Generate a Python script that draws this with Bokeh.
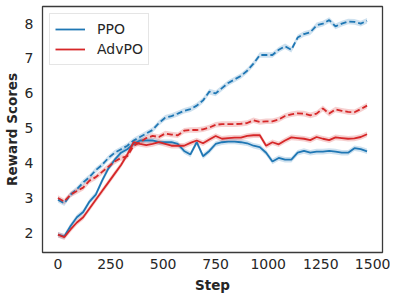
from bokeh.plotting import figure
from bokeh.models import Range1d, FixedTicker, Legend, LegendItem
from bokeh.embed import file_html
from bokeh.resources import INLINE

steps = list(range(0, 1500, 30))

ppo_dashed = [2.95, 2.85, 3.1, 3.25, 3.45, 3.6, 3.8, 3.95, 4.15, 4.3,
              4.4, 4.5, 4.65, 4.75, 4.85, 4.95, 5.15, 5.3, 5.35, 5.42,
              5.5, 5.55, 5.65, 5.8, 6.05, 6.0, 6.15, 6.3, 6.4, 6.5,
              6.65, 6.85, 7.1, 7.1, 7.1, 7.25, 7.35, 7.25, 7.6, 7.7,
              7.75, 7.95, 8.0, 8.1, 7.92, 8.0, 8.06, 8.05, 8.0, 8.08]
ppo_solid = [1.95, 1.9, 2.2, 2.45, 2.6, 2.9, 3.1, 3.5, 3.85, 4.1,
             4.3, 4.4, 4.55, 4.65, 4.65, 4.65, 4.6, 4.6, 4.6, 4.55,
             4.35, 4.25, 4.6, 4.2, 4.35, 4.55, 4.6, 4.62, 4.62, 4.6,
             4.57, 4.5, 4.46, 4.3, 4.05, 4.15, 4.1, 4.1, 4.3, 4.35,
             4.3, 4.33, 4.33, 4.35, 4.33, 4.3, 4.3, 4.43, 4.4, 4.34]
adv_dashed = [3.0, 2.9, 3.1, 3.2, 3.3, 3.5, 3.6, 3.75, 3.9, 4.05,
              4.15, 4.2, 4.5, 4.6, 4.72, 4.78, 4.75, 4.85, 4.82, 4.8,
              4.93, 4.95, 4.95, 4.97, 5.02, 5.1, 5.12, 5.12, 5.12, 5.13,
              5.15, 5.23, 5.18, 5.2, 5.2, 5.25, 5.35, 5.4, 5.43, 5.42,
              5.37, 5.42, 5.57, 5.42, 5.54, 5.5, 5.47, 5.46, 5.55, 5.65]
adv_solid = [1.95, 1.88, 2.1, 2.3, 2.45, 2.7, 2.95, 3.2, 3.45, 3.7,
             3.95, 4.25, 4.6, 4.55, 4.52, 4.55, 4.6, 4.55, 4.5, 4.5,
             4.5, 4.58, 4.65, 4.57, 4.68, 4.78, 4.7, 4.72, 4.73, 4.73,
             4.78, 4.8, 4.8, 4.5, 4.6, 4.54, 4.65, 4.74, 4.72, 4.7,
             4.66, 4.75, 4.7, 4.66, 4.74, 4.72, 4.7, 4.71, 4.75, 4.83]
ci_half = 0.08

x_ticks = [0, 250, 500, 750, 1000, 1250, 1500]
y_ticks = [2, 3, 4, 5, 6, 7, 8]

BLUE = "#1f77b4"
RED = "#d62728"
FONT = "DejaVu Sans"

p = figure(frame_width=340, frame_height=246, output_backend="svg", toolbar_location=None,
           x_range=Range1d(-73.5, 1543.5), y_range=Range1d(1.44, 8.49),
           min_border_left=42, min_border_right=8, min_border_top=6, min_border_bottom=0)

p.background_fill_color = "white"
p.border_fill_color = "white"
p.outline_line_color = "#3a3a3a"
p.outline_line_width = 1.3
p.grid.visible = False

def band(y):
    lo = [v - ci_half for v in y]
    hi = [v + ci_half for v in y]
    return lo, hi

series = [(ppo_dashed, BLUE, "dashed"), (ppo_solid, BLUE, "solid"),
          (adv_dashed, RED, "dashed"), (adv_solid, RED, "solid")]
renderers = {}
for y, c, d in series:
    lo, hi = band(y)
    p.varea(x=steps, y1=lo, y2=hi, fill_color=c, fill_alpha=0.22)
for y, c, d in series:
    r = p.line(steps, y, line_color=c, line_width=1.8,
               line_dash=("6 3" if d == "dashed" else "solid"))
    renderers[(c, d)] = r

for ax in (p.xaxis[0], p.yaxis[0]):
    ax.axis_line_color = None
    ax.major_tick_line_color = None
    ax.minor_tick_line_color = None
    ax.major_tick_in = 0
    ax.major_tick_out = 0
    ax.major_label_text_font = FONT
    ax.major_label_text_font_size = "14px"
    ax.major_label_text_color = "#262626"
    ax.axis_label_text_font = FONT
    ax.axis_label_text_font_size = "13.5px"
    ax.axis_label_text_font_style = "bold"
    ax.axis_label_text_color = "#262626"

p.xaxis.major_label_standoff = 6
p.xaxis.axis_label_standoff = 5
p.yaxis.major_label_standoff = 9
p.yaxis.axis_label_standoff = 2

p.xaxis.ticker = FixedTicker(ticks=x_ticks)
p.yaxis.ticker = FixedTicker(ticks=y_ticks)
p.xaxis.axis_label = "Step"
p.yaxis.axis_label = "Reward Scores"

legend = Legend(items=[
    LegendItem(label="PPO", renderers=[renderers[(BLUE, "solid")]]),
    LegendItem(label="AdvPO", renderers=[renderers[(RED, "solid")]]),
], location="top_left")
legend.margin = 7
legend.padding = 5
legend.spacing = 0
legend.glyph_width = 30
legend.glyph_height = 20
legend.label_height = 20
legend.label_standoff = 12
legend.label_text_font = FONT
legend.label_text_font_size = "14px"
legend.label_text_color = "#262626"
legend.border_line_color = "#cccccc"
legend.border_line_width = 1
legend.background_fill_alpha = 0.9
p.add_layout(legend)

open("out.html", "w").write(file_html(p, INLINE))
